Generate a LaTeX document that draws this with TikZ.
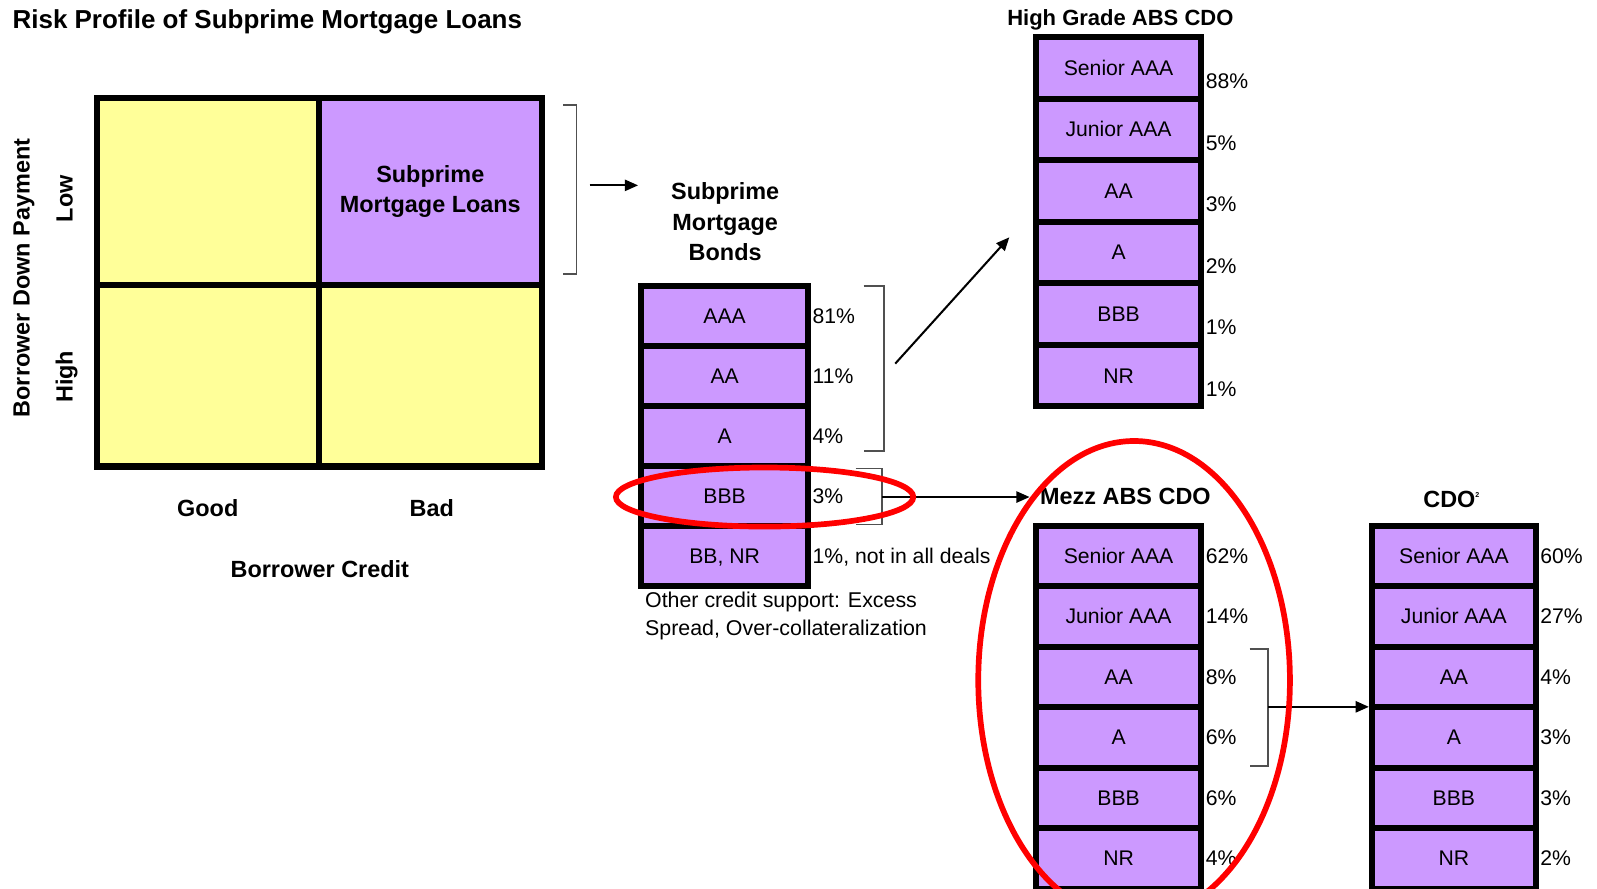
\documentclass[tikz,border=0pt]{standalone}
\usepackage{fontspec}
\setmainfont{Liberation Sans}
\usetikzlibrary{arrows.meta,positioning}
\definecolor{tranchepurple}{HTML}{CC99FF}
\definecolor{cellyellow}{HTML}{FFFF99}
\definecolor{ringred}{HTML}{FF0000}
\definecolor{bracketgray}{HTML}{505050}

\begin{document}
\begin{tikzpicture}[x=0.5pt,y=-0.5pt,
    cell/.style={draw,line width=3pt,fill=cellyellow},
    tranche/.style={draw,line width=3pt,fill=tranchepurple,inner sep=0pt,font=\fontsize{10.4}{12}\selectfont,text height=7.45pt,text depth=0pt},
    pct/.style={inner sep=0pt,anchor=west,font=\fontsize{10.4}{12}\selectfont,text height=7.45pt,text depth=0pt},
    heading/.style={inner sep=0pt,font=\fontsize{11.5}{14.5}\selectfont\bfseries,text height=8.2pt,text depth=0pt},
    headblock/.style={inner sep=0pt,align=center,font=\fontsize{11.5}{15}\selectfont\bfseries},
    note/.style={inner sep=0pt,align=left,font=\fontsize{10.5}{13.5}\selectfont},
    bracket/.style={draw=bracketgray,line width=0.8pt},
    flow/.style={line width=1pt,-{Triangle[length=6.5pt,width=5.5pt]}},
    ring/.style={draw=ringred,line width=2.8pt}]
        \clip (0,0) rectangle (1568,872);

        \node[heading,anchor=west,font=\fontsize{12.75}{15}\selectfont\bfseries,text height=9.1pt] (title) at (12,19) {Risk Profile of Subprime Mortgage Loans};

        % risk grid
        \node[cell,minimum width=109pt,minimum height=92pt] (gTL) at (204,188) {};
        \node[cell,fill=tranchepurple,minimum width=109.5pt,minimum height=92pt,align=center,font=\fontsize{11.5}{14.5}\selectfont\bfseries] (gTR) at (422.5,188) {Subprime\\Mortgage Loans};
        \node[cell,minimum width=109pt,minimum height=89pt] (gBL) at (204,369) {};
        \node[cell,minimum width=109.5pt,minimum height=89pt] (gBR) at (422.5,369) {};

        \node[heading] (good) at (204,499) {Good};
        \node[heading] (bad) at (424,499) {Bad};
        \node[heading] (credit) at (314,559) {Borrower Credit};
        \node[heading,rotate=90] (low) at (63,195) {Low};
        \node[heading,rotate=90] (high) at (63,370) {High};
        \node[heading,rotate=90] (downpay) at (21,273) {Borrower Down Payment};

        % subprime mortgage bonds
        \node[headblock] (smbt) at (712,218) {Subprime\\Mortgage\\Bonds};
        \foreach \lab/\share [count=\i] in {AAA/81\%, AA/11\%, A/4\%, BBB/3\%, {BB, NR}/{1\%, not in all deals}}{
            \node[tranche,minimum width=82pt,minimum height=29.5pt] (smb\i) at (711.5,{310+59*(\i-1)}) {\lab};
            \node[pct] (smbp\i) at ([xshift=0.5pt]smb\i.east) {\share};
        }
        \node[note,anchor=west] (support) at (633,605) {Other credit support: Excess\\Spread, Over-collateralization};

        % high grade ABS CDO
        \node[heading,font=\fontsize{10.8}{13}\selectfont\bfseries,text height=7.7pt] (hgt) at (1100,17) {High Grade ABS CDO};
        \foreach \lab/\share [count=\i] in {Senior AAA/88\%, Junior AAA/5\%, AA/3\%, A/2\%, BBB/1\%, NR/1\%}{
            \node[tranche,minimum width=81.25pt,minimum height=30.2pt] (hg\i) at (1098.25,{66.6+60.4*(\i-1)}) {\lab};
            \node[pct] (hgp\i) at ([xshift=0.5pt,yshift=-6.5pt]hg\i.east) {\share};
        }

        % mezz ABS CDO
        \node[heading] (mezzt) at (1105,487) {Mezz ABS CDO};
        \foreach \lab/\share [count=\i] in {Senior AAA/62\%, Junior AAA/14\%, AA/8\%, A/6\%, BBB/6\%, NR/4\%}{
            \node[tranche,minimum width=81.25pt,minimum height=29.7pt] (mz\i) at (1098.25,{545.8+59.4*(\i-1)}) {\lab};
            \node[pct] (mzp\i) at ([xshift=0.5pt]mz\i.east) {\share};
        }

        % CDO squared
        \node[heading] (cdot) at (1425,490) {CDO\raisebox{5pt}{\fontsize{3.5}{4}\selectfont 2}};
        \foreach \lab/\share [count=\i] in {Senior AAA/60\%, Junior AAA/27\%, AA/4\%, A/3\%, BBB/3\%, NR/2\%}{
            \node[tranche,minimum width=80.5pt,minimum height=29.7pt] (cdo\i) at (1427.5,{545.8+59.4*(\i-1)}) {\lab};
            \node[pct] (cdop\i) at ([xshift=0.5pt]cdo\i.east) {\share};
        }

        % brackets and arrows
        \draw[bracket] (553,103) -- (566,103) -- (566,269) -- (553,269);
        \coordinate (gridbr) at (579,182);
        \draw[flow] (gridbr) -- (gridbr -| smb1.west);

        \draw[bracket] (848,281) -- (868,281) -- (868,443) -- (848,443);
        \coordinate (seniorbr) at (879,357);
        \coordinate (hgin) at (991,233);
        \draw[flow] (seniorbr) -- (hgin);

        \draw[bracket] (840,460) -- (866,460) -- (866,515) -- (840,515);
        \coordinate (bbbbr) at (866,488);
        \coordinate (mezzin) at ([xshift=-5pt]mezzt.west);
        \draw[flow] (bbbbr) -- (bbbbr -| mezzin);

        \draw[bracket] (1227,637) -- (1245,637) -- (1245,752) -- (1227,752);
        \coordinate (mezzbr) at (1245,694);
        \draw[flow] (mezzbr) -- (mezzbr -| cdo1.west);

        % red rings
        \draw[ring] (750.7,488) ellipse [x radius=146, y radius=29];
        \draw[ring] (1113.5,668) ellipse [x radius=153, y radius=235];
\end{tikzpicture}
\end{document}
